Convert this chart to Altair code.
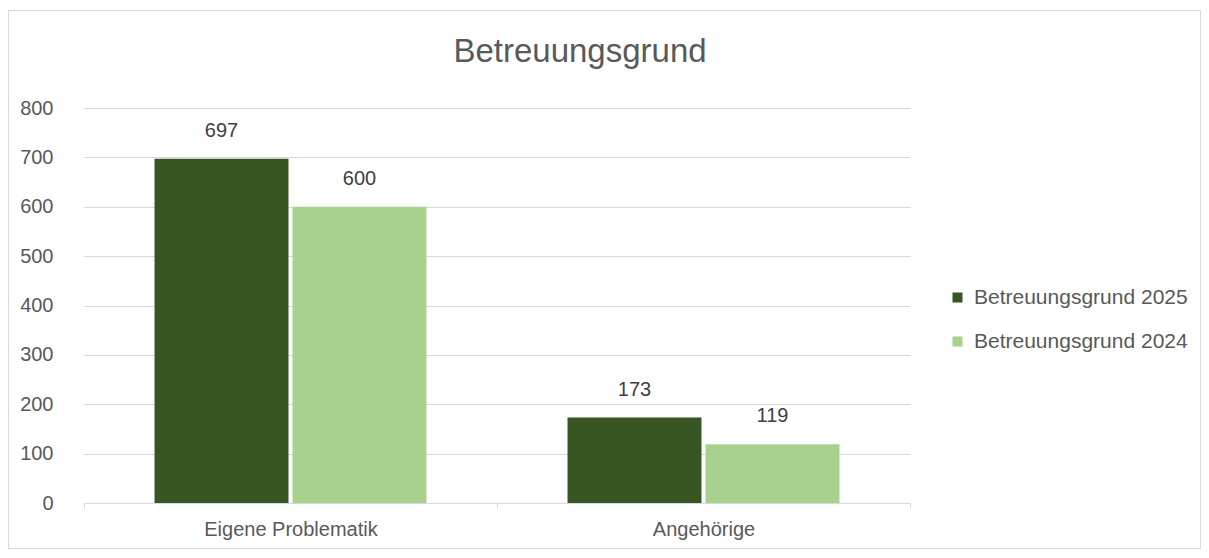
import altair as alt
import pandas as pd

categories = ["Eigene Problematik", "Angehörige"]
series = ["Betreuungsgrund 2025", "Betreuungsgrund 2024"]
values_2025 = [697, 173]
values_2024 = [600, 119]
colors = ["#375623", "#A9D18E"]
chart_title = "Betreuungsgrund"

rows = []
for i, c in enumerate(categories):
    rows.append({"Kategorie": c, "Serie": series[0], "Wert": values_2025[i]})
    rows.append({"Kategorie": c, "Serie": series[1], "Wert": values_2024[i]})
df = pd.DataFrame(rows)

FONT = "Liberation Sans"
TXT = "#595959"
GRID = "#D9D9D9"

base = alt.Chart(df).encode(
    x=alt.X("Kategorie:N", sort=categories, title=None,
            scale=alt.Scale(paddingInner=0, paddingOuter=0),
            axis=alt.Axis(labelAngle=0, labelFontSize=20, labelColor=TXT, labelFont=FONT,
                          domainColor=GRID, tickColor=GRID, tickSize=5, tickBand="extent",
                          labelPadding=11, grid=False)),
    xOffset=alt.XOffset("Serie:N", sort=series,
                        scale=alt.Scale(paddingInner=0.029, paddingOuter=0.511)),
)

bars = base.mark_bar().encode(
    y=alt.Y("Wert:Q", title=None,
            scale=alt.Scale(domain=[0, 800]),
            axis=alt.Axis(values=list(range(0, 801, 100)), domain=False, ticks=False,
                          gridColor=GRID, labelFontSize=20, labelColor=TXT, labelFont=FONT,
                          labelPadding=31)),
    color=alt.Color("Serie:N", sort=series,
                    scale=alt.Scale(domain=series, range=colors),
                    legend=alt.Legend(title=None, orient="none", legendX=863, legendY=179,
                                      symbolType="square", symbolSize=100, symbolStrokeWidth=0,
                                      labelFontSize=21, labelColor=TXT, labelFont=FONT,
                                      labelLimit=0, rowPadding=22, labelOffset=6)),
)

labels = base.mark_text(baseline="middle", dy=-28, fontSize=20, color="#404040", font=FONT).encode(
    y="Wert:Q",
    text="Wert:Q",
)

border = alt.Chart(df).mark_rect(fill=None, stroke="#D9D9D9", strokeWidth=1).encode(
    x=alt.value(-75.5), x2=alt.value(1116.5), y=alt.value(-97.5), y2=alt.value(440.5)
)

title_mark = alt.Chart(pd.DataFrame({"t": [chart_title]})).mark_text(
    fontSize=33, font=FONT, color=TXT, baseline="middle", align="center"
).encode(text="t:N", x=alt.value(496), y=alt.value(-56))

chart = alt.layer(border, bars, labels, title_mark).properties(
    width=826, height=395,
    autosize=alt.AutoSizeParams(type="none"),
    padding={"left": 76, "top": 100, "right": 291, "bottom": 47},
).configure(background="white", view=alt.ViewConfig(stroke=None))

chart.save("out.html", embed_options={"renderer": "svg", "actions": False})
